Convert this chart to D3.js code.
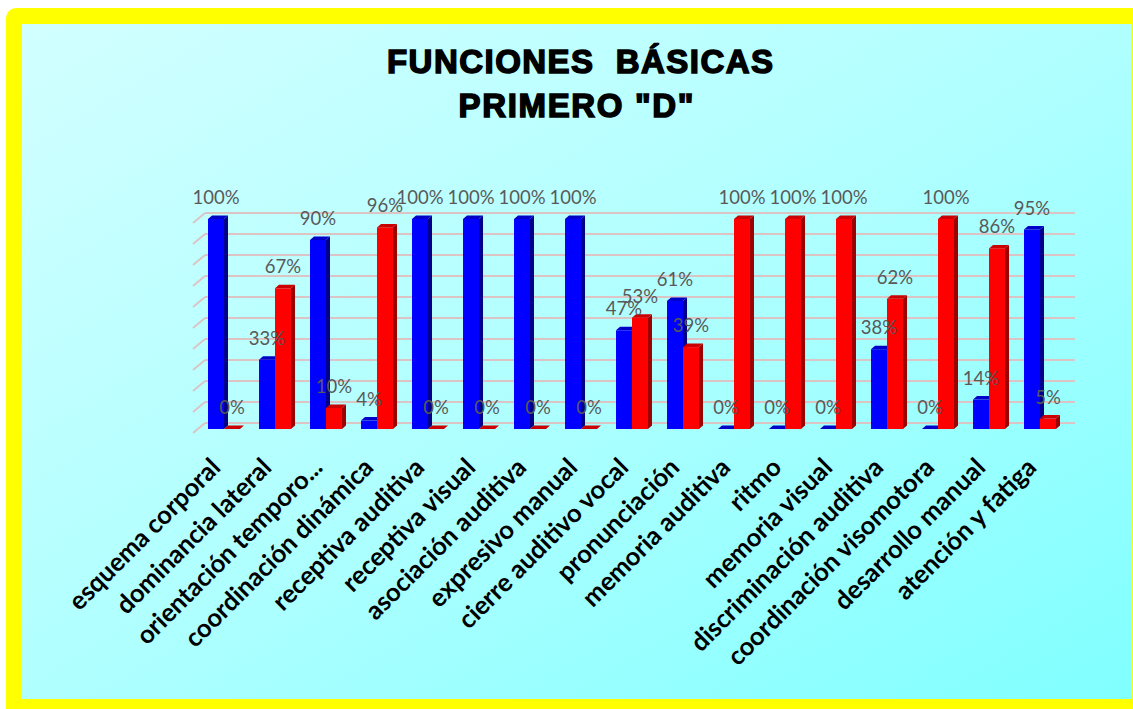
<!DOCTYPE html>
<html>
<head>
<meta charset="utf-8">
<script src="https://cdn.jsdelivr.net/npm/d3@7"></script>
<style>
  html, body { margin: 0; padding: 0; background: #ffffff; }
  svg { display: block; }
</style>
</head>
<body>
<div id="chart"></div>
<script>
// chart data
const categories = [
    "esquema corporal", "dominancia lateral", "orientación temporo...", "coordinación dinámica",
    "receptiva auditiva", "receptiva visual", "asociación auditiva", "expresivo manual",
    "cierre auditivo vocal", "pronunciación", "memoria auditiva", "ritmo", "memoria visual",
    "discriminación auditiva", "coordinación visomotora", "desarrollo manual", "atención y fatiga"
];
const blueValues = [1.00, 0.33, 0.90, 0.04, 1.00, 1.00, 1.00, 1.00, 0.47, 0.61, 0.00, 0.00, 0.00, 0.38, 0.00, 0.14, 0.95];
const redValues  = [0.00, 0.67, 0.10, 0.96, 0.00, 0.00, 0.00, 0.00, 0.53, 0.39, 1.00, 1.00, 1.00, 0.62, 1.00, 0.86, 0.05];
const gridTicks = d3.range(0, 1.0001, 0.1);
const titleLines = ["FUNCIONES  BÁSICAS", "PRIMERO \"D\""];

const width = 1133, height = 709;

const svg = d3.select("#chart").append("svg")
    .attr("width", width)
    .attr("height", height);

// background gradient
const defs = svg.append("defs");
const grad = defs.append("linearGradient")
    .attr("id", "bg")
    .attr("x1", "0%").attr("y1", "0%")
    .attr("x2", "100%").attr("y2", "100%");
grad.append("stop").attr("offset", "0%").attr("stop-color", "#d2ffff");
grad.append("stop").attr("offset", "50%").attr("stop-color", "#b0ffff");
grad.append("stop").attr("offset", "100%").attr("stop-color", "#80ffff");

// yellow frame + inner panel
svg.append("rect")
    .attr("x", 6).attr("y", 8)
    .attr("width", 1150).attr("height", 720)
    .attr("rx", 10)
    .attr("fill", "#ffff00");
svg.append("rect")
    .attr("x", 22).attr("y", 24)
    .attr("width", 1109).attr("height", 675)
    .attr("fill", "url(#bg)");

// title
const title = svg.append("g")
    .style("font-family", "'Liberation Sans', Arial, sans-serif")
    .style("font-weight", "bold")
    .style("font-size", "33px")
    .attr("fill", "#000")
    .attr("stroke", "#000")
    .attr("stroke-width", 1.5)
    .attr("text-anchor", "middle");
title.append("text")
    .attr("x", 580).attr("y", 73)
    .attr("xml:space", "preserve")
    .attr("textLength", 386)
    .attr("lengthAdjust", "spacing")
    .text(titleLines[0]);
title.append("text")
    .attr("x", 576).attr("y", 117)
    .attr("textLength", 235)
    .attr("lengthAdjust", "spacing")
    .text(titleLines[1]);

// scales
const x = d3.scaleBand()
    .domain(categories)
    .range([198.5, 1065.5])
    .paddingInner(0.373)
    .paddingOuter(0.1865);
const bw = x.bandwidth() / 2;
const y = d3.scaleLinear().domain([0, 1]).range([429, 219]);

const dx = 4, dy = 3.5;   // bar depth
const wallX0 = 205, wallX1 = 1075;

// gridlines on back wall
const grid = svg.append("g")
    .attr("stroke", "#dcc4c4")
    .attr("stroke-width", 2)
    .attr("fill", "none");
grid.selectAll("line.h")
    .data(gridTicks)
    .join("line")
    .attr("class", "h")
    .attr("x1", wallX0).attr("x2", wallX1)
    .attr("y1", d => y(d) - 6).attr("y2", d => y(d) - 6);
grid.selectAll("line.d")
    .data(gridTicks)
    .join("line")
    .attr("class", "d")
    .attr("x1", wallX0 - 12).attr("x2", wallX0)
    .attr("y1", d => y(d) + 4).attr("y2", d => y(d) - 6);

// bars
const series = [
    { values: blueValues, front: "#0000ff", side: "#00008c", top: "#0000c8", offset: 0 },
    { values: redValues,  front: "#ff0000", side: "#9c0000", top: "#cc0000", offset: 1 }
];

const bars = svg.append("g");
categories.forEach((c, i) => {
    series.forEach(s => {
        const v = s.values[i];
        const x0 = x(c) + s.offset * bw;
        const yt = y(v), yb = y(0);
        const g = bars.append("g");
        if (v > 0) {
            g.append("polygon")
                .attr("points", [[x0 + bw, yt], [x0 + bw + dx, yt - dy], [x0 + bw + dx, yb - dy], [x0 + bw, yb]].join(" "))
                .attr("fill", s.side);
            g.append("rect")
                .attr("x", x0).attr("y", yt)
                .attr("width", bw).attr("height", yb - yt)
                .attr("fill", s.front);
        }
        g.append("polygon")
            .attr("points", [[x0, yt], [x0 + dx, yt - dy], [x0 + bw + dx, yt - dy], [x0 + bw, yt]].join(" "))
            .attr("fill", s.top);
    });
});

// value labels
const labels = svg.append("g")
    .style("font-family", "Lato, 'Liberation Sans', sans-serif")
    .style("font-size", "18.5px")
    .attr("fill", "#595959")
    .attr("text-anchor", "middle");
categories.forEach((c, i) => {
    series.forEach(s => {
        const v = s.values[i];
        labels.append("text")
            .attr("x", x(c) + s.offset * bw + bw / 2)
            .attr("y", y(v) - 15)
            .text(d3.format(".0%")(v));
    });
});

// category labels
const catG = svg.append("g")
    .style("font-family", "Lato, 'Open Sans', sans-serif")
    .style("font-weight", "bold")
    .style("font-size", "25.5px")
    .attr("fill", "#000")
    .attr("text-anchor", "end");
catG.selectAll("text")
    .data(categories)
    .join("text")
    .attr("transform", d => `translate(${x(d) + bw - 2},${469}) rotate(-45)`)
    .text(d => d);
</script>
</body>
</html>
